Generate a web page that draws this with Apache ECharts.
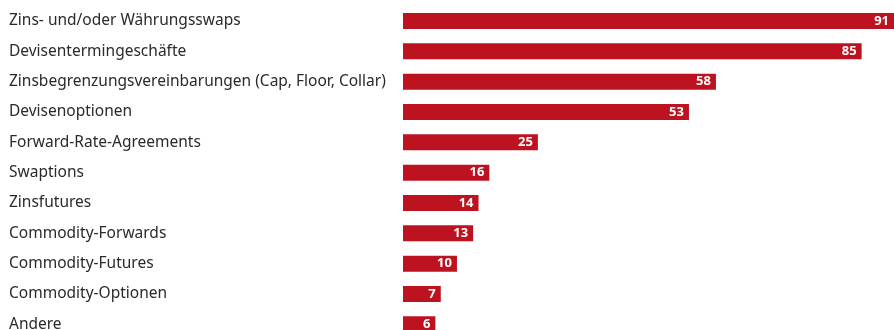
<!DOCTYPE html>
<html lang="de" style="height: 100%">
<head>
    <meta charset="UTF-8">
    <title>Derivate</title>
    <script src="https://cdn.jsdelivr.net/npm/echarts@6/dist/echarts.min.js"></script>
</head>
<body style="height: 100%; margin: 0; overflow: hidden">
<!-- the last bar is cut off at the bottom edge in the original, so the chart is a bit taller than the window -->
<div id="main" style="width: 894px; height: 340px"></div>
<script>
    var categories = ['Zins- und/oder Währungsswaps', 'Devisentermingeschäfte', 'Zinsbegrenzungsvereinbarungen (Cap, Floor, Collar)',
        'Devisenoptionen', 'Forward-Rate-Agreements', 'Swaptions', 'Zinsfutures', 'Commodity-Forwards',
        'Commodity-Futures', 'Commodity-Optionen', 'Andere'];
    var values = [91, 85, 58, 53, 25, 16, 14, 13, 10, 7, 6];

    var myChart = echarts.init(document.getElementById('main'));
    myChart.setOption({
        animation: false,
        grid: {left: 403, right: 0, top: 5.8, bottom: 0.5},
        xAxis: {
            type: 'value', min: 0, max: 91, show: false
        },
        yAxis: {
            type: 'category',
            inverse: true,
            data: categories,
            axisLine: {show: false},
            axisTick: {show: false},
            axisLabel: {
                align: 'left',
                margin: 394,
                color: '#2a2a2a',
                fontFamily: 'Noto Sans',
                fontSize: 15.5
            }
        },
        series: [{
            type: 'bar',
            data: values,
            barWidth: 16,
            itemStyle: {color: '#bd1220'},
            label: {
                show: true,
                position: 'insideRight',
                distance: 5,
                color: '#fff',
                fontWeight: 'bold',
                fontFamily: 'Noto Sans',
                fontSize: 13
            }
        }]
    });
</script>
</body>
</html>
